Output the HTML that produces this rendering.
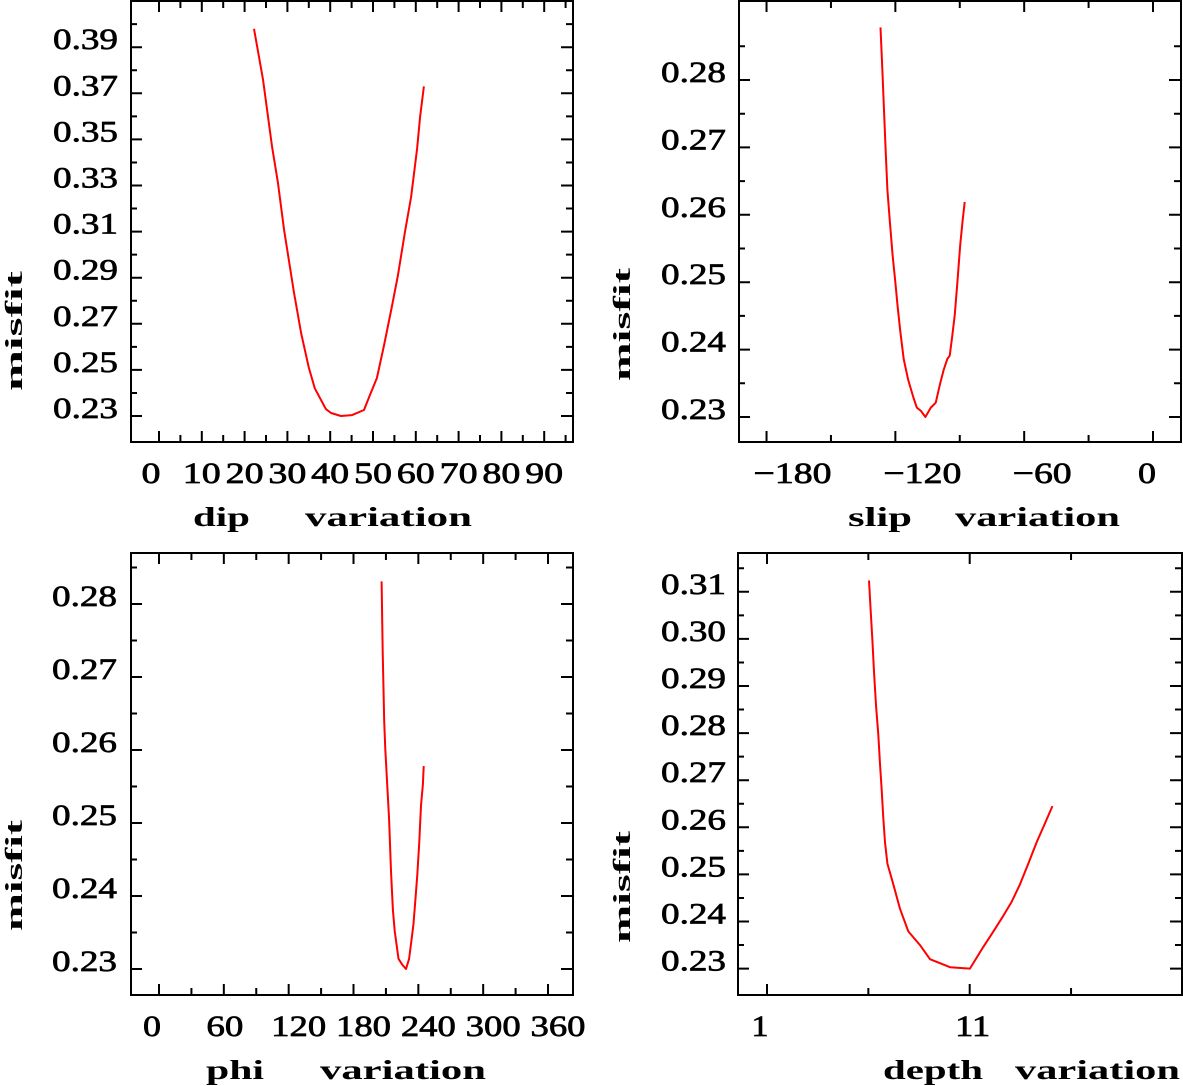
<!DOCTYPE html>
<html><head><meta charset="utf-8"><style>
html,body{margin:0;padding:0;background:#fff}
svg{display:block}
text{font-family:"Liberation Serif",serif;fill:#000}
</style></head><body>
<svg id="chart" width="1183" height="1086" viewBox="0 0 1183 1086" xmlns="http://www.w3.org/2000/svg">
<rect x="0" y="0" width="1183" height="1086" fill="#fff"/>
</svg>
<script>
// ---- data ----
const dipX = [22.2,24.3,26.4,27.8,29.2,31.5,33.2,35.0,36.4,39.0,40.2,42.5,45.1,47.9,49.1,50.9,52.6,54.4,55.8,57.5,58.9,60.3,61.0,61.9];
const dipY = [0.398,0.376,0.347,0.331,0.311,0.284,0.266,0.251,0.242,0.233,0.2313,0.230,0.2304,0.2326,0.2382,0.2465,0.2608,0.2773,0.2907,0.3102,0.325,0.346,0.3598,0.373];
const slipX = [-126.9,-126.1,-125.3,-124.5,-123.7,-122.6,-121.3,-120.0,-118.9,-117.7,-116.1,-114.0,-111.6,-110.0,-108.1,-106.0,-103.5,-101.2,-99.1,-97.5,-95.8,-94.7,-93.6,-92.3,-91.0,-89.8,-88.7,-87.7];
const slipY = [0.2878,0.2817,0.2755,0.2694,0.2637,0.2591,0.2540,0.2499,0.2463,0.2427,0.2386,0.2355,0.2329,0.2314,0.2309,0.2300,0.2314,0.2321,0.2350,0.2370,0.2386,0.2391,0.2417,0.2452,0.2504,0.2555,0.2591,0.2619];
const phiX = [206.0,207.0,208.4,209.4,211.2,212.9,214.7,216.5,218.1,219.9,221.6,225.1,228.6,231.4,233.9,235.5,237.3,239.0,240.8,242.5,244.2,245.0];
const phiY = [0.2831,0.2734,0.2639,0.2601,0.2553,0.2505,0.2434,0.2381,0.2352,0.2333,0.2314,0.2306,0.2300,0.2314,0.2343,0.2362,0.2395,0.2429,0.2472,0.2524,0.2553,0.2578];
const depthX = [6.03,6.11,6.21,6.28,6.38,6.49,6.57,6.66,6.74,6.82,6.94,7.23,7.56,7.97,8.55,9.04,10.03,11.01,11.67,12.17,12.66,13.07,13.48,13.89,14.30,14.71,15.08];
const depthY = [0.3124,0.3063,0.2989,0.2930,0.2856,0.2797,0.2738,0.2679,0.2620,0.2568,0.2523,0.2479,0.2427,0.2379,0.2350,0.2320,0.2303,0.2300,0.2346,0.2379,0.2412,0.2442,0.2479,0.2523,0.2568,0.2608,0.2645];

const dipYTicks = [0.23,0.25,0.27,0.29,0.31,0.33,0.35,0.37,0.39];
const dipYLabels = ["0.23","0.25","0.27","0.29","0.31","0.33","0.35","0.37","0.39"];
const dipXTicks = [0,10,20,30,40,50,60,70,80,90];
const dipXLabels = ["0","10","20","30","40","50","60","70","80","90"];
const slipYTicks = [0.23,0.24,0.25,0.26,0.27,0.28];
const slipYLabels = ["0.23","0.24","0.25","0.26","0.27","0.28"];
const slipXTicks = [-180,-120,-60,0];
const slipXLabels = ["\u2212180","\u2212120","\u221260","0"];
const phiYTicks = [0.23,0.24,0.25,0.26,0.27,0.28];
const phiYLabels = ["0.23","0.24","0.25","0.26","0.27","0.28"];
const phiXTicks = [0,60,120,180,240,300,360];
const phiXLabels = ["0","60","120","180","240","300","360"];
const depthYTicks = [0.23,0.24,0.25,0.26,0.27,0.28,0.29,0.30,0.31];
const depthYLabels = ["0.23","0.24","0.25","0.26","0.27","0.28","0.29","0.30","0.31"];
const depthXTicks = [1,11];
const depthXLabels = ["1","11"];

const NS = "http://www.w3.org/2000/svg";
const svg = document.getElementById('chart');
function mk(tag, attrs, parent){
  const e = document.createElementNS(NS, tag);
  for (const k in attrs) e.setAttribute(k, attrs[k]);
  (parent||svg).appendChild(e);
  return e;
}

function panel(cfg){
  const g = mk('g', {});
  
  
  const f = cfg.frame;
  const X = v => cfg.x0 + (v - cfg.xv0) * cfg.xs;
  const Y = v => cfg.y0 - (v - 0.23) * cfg.ys;
  const fr = mk('rect', {x:f.l, y:f.t, width:f.r-f.l, height:f.b-f.t, fill:'none', stroke:'#000', 'stroke-width':2}, g);
  
  
  let d = '';
  for (let i = 0; i < cfg.yMinor.length; i++){
    const y = Y(cfg.yMinor[i]);
    if (y < f.t+8 || y > f.b-8) continue;
    d += `M${f.l} ${y}h6M${f.r} ${y}h-7`;
  }
  for (let i = 0; i < cfg.yTicks.length; i++){
    const y = Y(cfg.yTicks[i]);
    d += `M${f.l} ${y}h11M${f.r} ${y}h-12`;
  }
  for (let i = 0; i < cfg.xMinor.length; i++){
    const x = X(cfg.xMinor[i]);
    if (x < f.l+4 || x > f.r-4) continue;
    d += `M${x} ${f.b}v-7M${x} ${f.t}v7`;
  }
  for (let i = 0; i < cfg.xTicks.length; i++){
    const x = X(cfg.xTicks[i]);
    d += `M${x} ${f.b}v-11M${x} ${f.t}v11`;
  }
  const tk = mk('path', {d:d, stroke:'#000', 'stroke-width':2, fill:'none'}, g);
  
  
  for (let i = 0; i < cfg.yTicks.length; i++){
    const t = mk('text', {x:cfg.yLabX, y:Y(cfg.yTicks[i]) + 2, 'font-size':30, stroke:'#000', 'stroke-width':0.7, textLength:65, lengthAdjust:'spacingAndGlyphs'}, g);
    t.textContent = cfg.yLabels[i];
    
    
  }
  for (let i = 0; i < cfg.xTicks.length; i++){
    const s = cfg.xLabels[i];
    const w = cfg.xLabW(s);
    const cx = X(cfg.xTicks[i]) + cfg.xLabOff(s);
    const t = mk('text', {x:cx - w/2, y:cfg.xLabY, 'font-size':30, stroke:'#000', 'stroke-width':0.7, textLength:w, lengthAdjust:'spacingAndGlyphs'}, g);
    t.textContent = s;
    
    
  }
  let p = '';
  for (let i = 0; i < cfg.xs_.length; i++){
    p += (i ? 'L' : 'M') + X(cfg.xs_[i]).toFixed(1) + ' ' + Y(cfg.ys_[i]).toFixed(1);
  }
  const ln = mk('path', {d:p, stroke:'#ff0000', 'stroke-width':2, fill:'none', 'stroke-linejoin':'round'}, g);
  
  
  const yt = mk('text', {x:0, y:0, 'font-size':24, 'font-weight':'bold', textLength:cfg.ytLen, lengthAdjust:'spacingAndGlyphs', transform:`translate(${cfg.ytX},${cfg.ytY}) rotate(-90)`}, g);
  yt.textContent = 'misfit';
  
  
  const xt1 = mk('text', {x:cfg.xt1[0], y:cfg.xtY, 'font-size':27, 'font-weight':'bold', textLength:cfg.xt1[1], lengthAdjust:'spacingAndGlyphs'}, g);
  xt1.textContent = cfg.xtWord;
  
  
  const xt2 = mk('text', {x:cfg.xt2[0], y:cfg.xtY, 'font-size':27, 'font-weight':'bold', textLength:cfg.xt2[1], lengthAdjust:'spacingAndGlyphs'}, g);
  xt2.textContent = 'variation';
  
  
}

function range(a, b, s){ const r = []; for (let v = a; v <= b + 1e-9; v += s) r.push(+v.toFixed(4)); return r; }

panel({name:'dip', frame:{l:131,r:573,t:1,b:442}, x0:159, xv0:0, xs:4.28, y0:416, ys:2305,
  xs_:dipX, ys_:dipY, yTicks:dipYTicks, yLabels:dipYLabels, yMinor:range(0.22,0.40,0.01),
  xTicks:dipXTicks, xLabels:dipXLabels, xMinor:range(5,95,10),
  yLabX:53, xLabY:483, xLabW:s=>s.length*19, xLabOff:s=>s==='0'?-8:0,
  ytX:22, ytY:391, ytLen:120, xtY:526, xtWord:'dip', xt1:[193,57], xt2:[305,167]});

panel({name:'slip', frame:{l:739,r:1181,t:1,b:442}, x0:1153, xv0:0, xs:2.147, y0:417, ys:6740,
  xs_:slipX, ys_:slipY, yTicks:slipYTicks, yLabels:slipYLabels, yMinor:range(0.225,0.29,0.01),
  xTicks:slipXTicks, xLabels:slipXLabels, xMinor:[-150,-90,-30],
  yLabX:661, xLabY:483, xLabW:s=>s.length===1?18:(s.length===4?78:59), xLabOff:s=>s==='0'?-6:(s.length===4?(s==='\u2212180'?26:27):18),
  ytX:630, ytY:381, ytLen:113, xtY:526, xtWord:'slip', xt1:[848,64], xt2:[955,165]});

panel({name:'phi', frame:{l:131,r:573,t:553,b:995}, x0:159, xv0:0, xs:1.0806, y0:969, ys:7300,
  xs_:phiX, ys_:phiY, yTicks:phiYTicks, yLabels:phiYLabels, yMinor:range(0.235,0.285,0.01),
  xTicks:phiXTicks, xLabels:phiXLabels, xMinor:[30,90,150,210,270,330],
  yLabX:52, xLabY:1036, xLabW:s=>s.length===1?18:(s.length===2?37:55), xLabOff:s=>s==='0'?-7:(s.length===3?10:1),
  ytX:22, ytY:931, ytLen:111, xtY:1079, xtWord:'phi', xt1:[206,58], xt2:[320,166]});

panel({name:'depth', frame:{l:738,r:1182,t:553,b:995}, x0:767, xv0:1, xs:20.27, y0:968.6, ys:4710,
  xs_:depthX, ys_:depthY, yTicks:depthYTicks, yLabels:depthYLabels, yMinor:range(0.225,0.315,0.01),
  xTicks:depthXTicks, xLabels:depthXLabels, xMinor:[6,16],
  yLabX:661, xLabY:1036, xLabW:s=>s.length===1?17:35, xLabOff:s=>s==='1'?-7:3,
  ytX:630, ytY:943, ytLen:112, xtY:1079, xtWord:'depth', xt1:[883,100], xt2:[1015,165]});
</script>
</body></html>
